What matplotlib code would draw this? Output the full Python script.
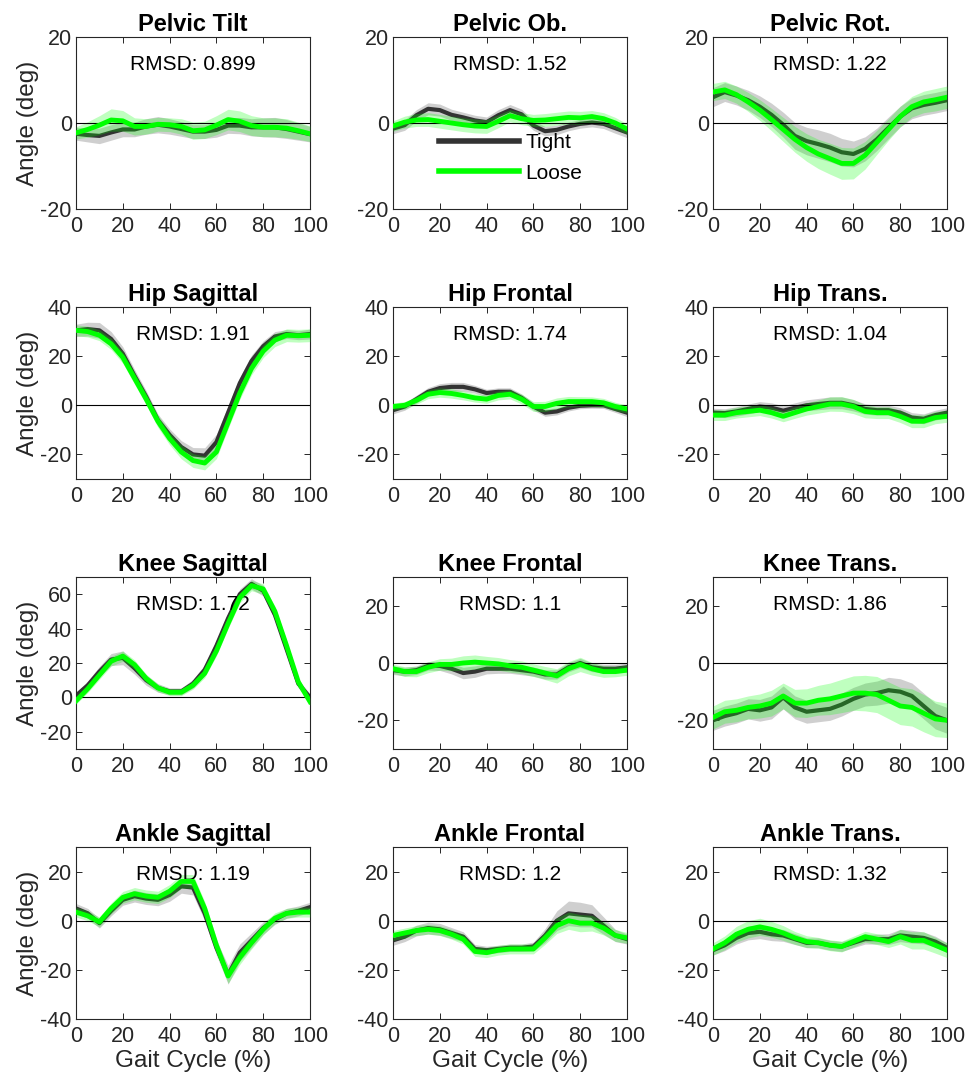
import numpy as np
import matplotlib
matplotlib.use("Agg")
import matplotlib.pyplot as plt
from matplotlib.lines import Line2D

plt.rcParams["font.family"] = ["Liberation Sans", "DejaVu Sans"]
plt.rcParams["axes.unicode_minus"] = False

# gait cycle sample points (% of cycle)
gait = [0, 5, 10, 15, 20, 25, 30, 35, 40, 45, 50, 55, 60, 65, 70, 75, 80, 85, 90, 95, 100]

titles = ["Pelvic Tilt", "Pelvic Ob.", "Pelvic Rot.",
          "Hip Sagittal", "Hip Frontal", "Hip Trans.",
          "Knee Sagittal", "Knee Frontal", "Knee Trans.",
          "Ankle Sagittal", "Ankle Frontal", "Ankle Trans."]
rmsd = ["0.899", "1.52", "1.22", "1.91", "1.74", "1.04",
        "1.72", "1.1", "1.86", "1.19", "1.2", "1.32"]

# mean angles (deg) and SD, tight vs loose
pelvic_tilt_tight = [-2.5, -2.8, -3, -2.2, -1.5, -1.5, -0.8, -0.4, -0.8, -1.4, -2, -2, -1.6, -0.6, -0.6, -1, -1, -1, -1.4, -2, -2.6]
pelvic_tilt_loose = [-2.3, -1.5, -0.5, 0.7, 0.5, -0.8, -0.8, -0.3, -0.4, -0.8, -1.8, -1.6, -0.5, 0.8, 0.4, -0.6, -1, -1, -1.2, -1.8, -2.5]
pelvic_tilt_tight_sd = [1.5, 1.6, 1.8, 1.8, 1.7, 1.7, 1.8, 1.9, 1.8, 1.7, 1.6, 1.6, 1.7, 1.8, 1.9, 2.0, 2.2, 2.3, 2.2, 2.0, 1.8]
pelvic_tilt_loose_sd = [1.4, 1.8, 2.2, 2.6, 2.4, 2.0, 1.8, 1.6, 1.6, 1.8, 2.0, 2.0, 2.2, 2.4, 2.4, 2.3, 2.2, 2.2, 2.2, 2.0, 1.8]

pelvic_ob_tight = [-1.3, -0.5, 1.8, 3.3, 3.0, 1.9, 1.3, 0.6, 0.2, 1.8, 3.0, 2.0, -0.6, -1.9, -1.6, -0.8, -0.2, 0.1, -0.2, -1.2, -2.2]
pelvic_ob_loose = [-0.7, 0.2, 0.7, 0.8, 0.4, 0, -0.4, -0.7, -0.8, 0.4, 1.7, 1.0, 0.6, 0.7, 1.0, 1.3, 1.2, 1.5, 1.0, 0, -1.4]
pelvic_ob_tight_sd = [1.2, 1.2, 1.3, 1.4, 1.4, 1.3, 1.2, 1.2, 1.2, 1.3, 1.3, 1.2, 1.1, 1.1, 1.1, 1.0, 1.0, 1.0, 1.1, 1.2, 1.2]
pelvic_ob_loose_sd = [1.2, 1.4, 1.5, 1.6, 1.6, 1.6, 1.6, 1.6, 1.6, 1.5, 1.4, 1.4, 1.4, 1.5, 1.5, 1.5, 1.5, 1.4, 1.4, 1.3, 1.2]

pelvic_rot_tight = [6, 7.2, 6.4, 5.3, 3.8, 1.9, -0.4, -3, -4.2, -4.9, -5.7, -6.8, -7.2, -6, -3.8, -1.1, 1.5, 3.4, 4.2, 4.7, 5.3]
pelvic_rot_loose = [7.2, 7.7, 6.6, 4.9, 3, 0.8, -1.5, -3.8, -5.7, -7.2, -8.3, -9.4, -9.4, -7.5, -4.5, -1.5, 1.5, 3.8, 4.9, 5.4, 6]
pelvic_rot_tight_sd = [2.2, 2.2, 2.2, 2.3, 2.5, 2.7, 2.9, 3.1, 3.2, 3.3, 3.3, 3.2, 3.0, 2.8, 2.6, 2.5, 2.4, 2.4, 2.4, 2.4, 2.4]
pelvic_rot_loose_sd = [2.0, 2.0, 2.0, 2.2, 2.4, 2.6, 2.8, 3.0, 3.2, 3.4, 3.6, 3.7, 3.6, 3.2, 2.8, 2.5, 2.4, 2.4, 2.5, 2.6, 2.6]

hip_sag_tight = [30.5, 31, 30.5, 27, 21, 12, 3.5, -6, -12, -17, -20, -20.5, -15, -3, 9, 18, 24, 28, 29, 28.5, 29]
hip_sag_loose = [30.5, 30, 28.5, 25, 19.5, 11, 2.5, -6.5, -13.5, -19, -22.5, -23.5, -19, -7, 5, 15, 22, 26.5, 28.5, 28.3, 28.5]
hip_sag_tight_sd = [2.5, 2.8, 3.2, 3.0, 2.8, 2.6, 2.4, 2.4, 2.4, 2.6, 2.8, 3.2, 3.2, 2.8, 2.5, 2.4, 2.2, 2.0, 1.8, 1.8, 2.0]
hip_sag_loose_sd = [2.2, 2.2, 2.2, 2.3, 2.4, 2.4, 2.4, 2.5, 2.6, 2.8, 2.8, 2.8, 2.7, 2.6, 2.6, 2.6, 2.6, 2.6, 2.6, 2.6, 2.6]

hip_front_tight = [-2, -0.5, 2.5, 5.5, 7, 7.5, 7.5, 6.5, 5, 5.5, 5.5, 3, -0.5, -3, -2.5, -1, -0.2, 0, 0, -1.5, -3]
hip_front_loose = [-0.5, 0, 2, 4.5, 5.2, 4.8, 4, 3, 2.5, 4, 4.5, 2.5, -0.5, -0.5, 0.8, 1.5, 1.5, 1.5, 1, -0.5, -1.5]
hip_front_tight_sd = [1.5, 1.5, 1.6, 1.7, 1.8, 1.8, 1.8, 1.6, 1.5, 1.6, 1.6, 1.6, 1.5, 1.5, 1.4, 1.3, 1.2, 1.2, 1.3, 1.4, 1.6]
hip_front_loose_sd = [1.4, 1.5, 1.6, 1.8, 1.9, 1.9, 1.8, 1.7, 1.7, 1.8, 1.9, 2.0, 2.0, 2.1, 2.2, 2.1, 2.0, 1.9, 1.8, 1.7, 1.6]

hip_trans_tight = [-3, -3.2, -2.5, -1.5, -0.5, -1, -2.2, -1, 0, 0.5, 1, 1, 0, -1.5, -2, -2, -3, -5, -5.5, -4, -3]
hip_trans_loose = [-4, -4, -3, -2.5, -2, -3, -4.5, -3, -1.5, -0.5, 0.5, 0.5, -0.5, -2.5, -3, -3, -4.5, -6.5, -6.5, -5, -4.5]
hip_trans_tight_sd = [1.8, 1.8, 1.9, 2.0, 2.0, 2.0, 2.0, 2.0, 2.2, 2.3, 2.4, 2.4, 2.3, 2.1, 2.0, 2.0, 2.0, 2.0, 2.0, 2.0, 2.0]
hip_trans_loose_sd = [2.2, 2.2, 2.2, 2.2, 2.2, 2.2, 2.2, 2.3, 2.5, 2.7, 2.9, 3.0, 2.9, 2.6, 2.4, 2.4, 2.5, 2.6, 2.6, 2.5, 2.4]

knee_sag_tight = [1, 7, 15, 22, 23, 17, 10, 5.5, 3.5, 3.5, 8, 16, 30, 46, 60, 66, 62, 48, 28, 8, 0]
knee_sag_loose = [-2, 5, 13, 21, 24, 19, 11, 5.5, 3, 3, 7, 14, 27, 43, 58, 65, 63, 50, 30, 9, -2.5]
knee_sag_tight_sd = [2.0, 2.5, 3.0, 3.5, 4.0, 3.5, 3.0, 2.5, 2.0, 2.0, 2.5, 3.0, 3.0, 3.0, 3.0, 3.0, 3.0, 3.0, 3.0, 2.5, 2.0]
knee_sag_loose_sd = [2.0, 2.2, 2.5, 2.8, 3.0, 2.8, 2.5, 2.2, 2.0, 2.0, 2.2, 2.5, 2.8, 3.0, 3.0, 3.0, 3.0, 3.0, 3.0, 2.5, 2.0]

knee_front_tight = [-2.5, -3, -2.5, -1, -1, -2, -3.5, -3, -2, -2, -2, -2.5, -3, -4, -4, -1.5, 0, -1.5, -2, -2, -1.5]
knee_front_loose = [-2, -3, -3, -1.5, -0.5, -0.5, 0, 0.3, 0, -0.3, -1, -1.5, -2.5, -3.5, -4.5, -2, -0.5, -2, -3, -3, -2.5]
knee_front_tight_sd = [1.5, 1.5, 1.5, 1.5, 1.6, 1.8, 2.0, 2.0, 1.8, 1.6, 1.6, 1.6, 1.6, 1.6, 1.6, 1.6, 1.6, 1.5, 1.5, 1.5, 1.5]
knee_front_loose_sd = [1.6, 1.7, 1.8, 1.9, 2.0, 2.2, 2.5, 2.5, 2.3, 2.2, 2.2, 2.2, 2.2, 2.3, 2.5, 2.5, 2.5, 2.2, 2.0, 1.8, 1.8]

knee_trans_tight = [-20, -18.5, -17.5, -16, -16.5, -15.5, -12, -15.5, -17, -16.5, -16, -14.5, -12.5, -11, -10.5, -9.5, -10, -11.5, -15, -18.5, -20]
knee_trans_loose = [-19, -17, -16.5, -15.5, -15, -14, -11.5, -14, -14, -13, -12.5, -11.5, -10.5, -10.5, -11, -13, -15, -15.5, -17.5, -19.5, -20]
knee_trans_tight_sd = [3.5, 3.5, 3.5, 3.5, 3.8, 4.0, 4.0, 4.0, 4.0, 4.0, 4.0, 4.0, 4.0, 4.0, 4.2, 4.5, 4.5, 4.5, 4.5, 4.5, 4.5]
knee_trans_loose_sd = [4.0, 4.0, 4.0, 4.0, 4.2, 4.5, 4.5, 4.8, 5.0, 5.2, 5.5, 5.8, 6.0, 6.2, 6.3, 6.4, 6.5, 6.5, 6.5, 6.2, 6.0]

ankle_sag_tight = [5, 3, -1, 4, 8.5, 10, 9, 8.5, 10.5, 14, 13.5, 3, -11, -22, -13, -8, -3, 0.5, 3, 4, 5.5]
ankle_sag_loose = [3.5, 2, -0.5, 5, 9.5, 11, 10, 9.5, 12, 16, 16, 5, -10, -22.5, -15, -9, -3.5, 1, 3, 3.5, 3.5]
ankle_sag_tight_sd = [2.0, 2.0, 2.0, 2.0, 2.2, 2.4, 2.4, 2.4, 2.6, 2.8, 3.0, 3.0, 3.0, 3.8, 3.5, 3.0, 2.5, 2.0, 2.0, 2.0, 2.0]
ankle_sag_loose_sd = [2.0, 2.0, 2.0, 2.2, 2.4, 2.5, 2.5, 2.5, 2.7, 2.8, 2.8, 2.8, 2.8, 3.0, 2.8, 2.5, 2.3, 2.2, 2.0, 2.0, 2.0]

ankle_front_tight = [-8, -6.5, -4, -3, -3.5, -5, -6.5, -11.5, -12, -11.5, -11, -11, -10.5, -6, 0, 3, 2.5, 2, -2, -6, -7.5]
ankle_front_loose = [-6, -5, -4, -3.5, -4, -5.5, -7.5, -12.5, -13, -12, -11.5, -11.5, -11.5, -7, -2, 0, -1, -1, -3, -6, -7]
ankle_front_tight_sd = [2.0, 2.0, 2.2, 2.4, 2.4, 2.2, 2.0, 1.8, 1.6, 1.5, 1.5, 1.5, 1.8, 2.8, 4.0, 5.0, 5.0, 4.5, 3.5, 2.5, 2.0]
ankle_front_loose_sd = [2.0, 2.0, 2.0, 2.0, 2.0, 2.0, 2.0, 2.0, 2.0, 2.0, 2.0, 2.0, 2.0, 2.6, 3.2, 3.5, 3.5, 3.2, 2.8, 2.4, 2.2]

ankle_trans_tight = [-12, -10, -7, -5, -4.5, -5.5, -6, -7.5, -9, -9, -10, -10.5, -9, -7.5, -7.5, -7.5, -6, -6.5, -7, -8.5, -11]
ankle_trans_loose = [-11.5, -9, -5.5, -3.5, -2.5, -3.5, -5, -7, -8.5, -9, -10, -10.5, -8.5, -6.5, -7.5, -8.5, -6.5, -8, -8, -10, -12]
ankle_trans_tight_sd = [2.0, 2.2, 2.5, 2.8, 2.8, 2.6, 2.4, 2.2, 2.0, 2.0, 2.0, 2.0, 2.0, 2.0, 2.0, 2.2, 2.5, 2.6, 2.4, 2.2, 2.0]
ankle_trans_loose_sd = [2.5, 2.8, 3.2, 3.5, 3.5, 3.2, 3.0, 2.6, 2.4, 2.2, 2.2, 2.2, 2.2, 2.2, 2.2, 2.4, 3.0, 3.5, 3.5, 3.2, 3.0]

tight_means = [pelvic_tilt_tight, pelvic_ob_tight, pelvic_rot_tight, hip_sag_tight, hip_front_tight, hip_trans_tight,
               knee_sag_tight, knee_front_tight, knee_trans_tight, ankle_sag_tight, ankle_front_tight, ankle_trans_tight]
loose_means = [pelvic_tilt_loose, pelvic_ob_loose, pelvic_rot_loose, hip_sag_loose, hip_front_loose, hip_trans_loose,
               knee_sag_loose, knee_front_loose, knee_trans_loose, ankle_sag_loose, ankle_front_loose, ankle_trans_loose]
tight_sds = [pelvic_tilt_tight_sd, pelvic_ob_tight_sd, pelvic_rot_tight_sd, hip_sag_tight_sd, hip_front_tight_sd, hip_trans_tight_sd,
             knee_sag_tight_sd, knee_front_tight_sd, knee_trans_tight_sd, ankle_sag_tight_sd, ankle_front_tight_sd, ankle_trans_tight_sd]
loose_sds = [pelvic_tilt_loose_sd, pelvic_ob_loose_sd, pelvic_rot_loose_sd, hip_sag_loose_sd, hip_front_loose_sd, hip_trans_loose_sd,
             knee_sag_loose_sd, knee_front_loose_sd, knee_trans_loose_sd, ankle_sag_loose_sd, ankle_front_loose_sd, ankle_trans_loose_sd]

# y-limits / ticks per row
row_ylim = [(-20, 20), (-30, 40), None, (-40, 30)]
row_yticks = [[-20, 0, 20], [-20, 0, 20, 40], None, [-40, -20, 0, 20]]

TIGHT_C = "#333333"
LOOSE_C = "#00ff00"
AX_C = "#262626"

W, H = 974, 1080
fig = plt.figure(figsize=(W / 100, H / 100), dpi=100)
col_left = [76, 393, 713]
row_bottom = [209, 479, 749, 1019]
aw, ah = 234, 172

x = np.array(gait)
for i in range(12):
    r, c = divmod(i, 3)
    ax = fig.add_axes([col_left[c] / W, 1 - row_bottom[r] / H, aw / W, ah / H])
    mt, ml = np.array(tight_means[i]), np.array(loose_means[i])
    st, sl = np.array(tight_sds[i]), np.array(loose_sds[i])
    ax.fill_between(x, mt - st, mt + st, color="#a0a0a0", alpha=0.5, lw=0, zorder=1)
    ax.plot(x, mt, color=TIGHT_C, lw=3.0, zorder=2, solid_joinstyle="round")
    ax.fill_between(x, ml - sl, ml + sl, color=LOOSE_C, alpha=0.25, lw=0, zorder=3)
    ax.axhline(0, color="black", lw=0.8, zorder=3.5)
    ax.plot(x, ml, color=LOOSE_C, lw=3.5, zorder=4, solid_joinstyle="round")

    ax.set_xlim(0, 100)
    ax.set_xticks([0, 20, 40, 60, 80, 100])
    if r == 2:
        if c == 0:
            ax.set_ylim(-30, 70)
            ax.set_yticks([-20, 0, 20, 40, 60])
        else:
            ax.set_ylim(-30, 30)
            ax.set_yticks([-20, 0, 20])
    else:
        ax.set_ylim(*row_ylim[r])
        ax.set_yticks(row_yticks[r])

    ax.tick_params(direction="in", top=True, right=True, labelsize=15.5,
                   colors=AX_C, length=4, width=0.7)
    ax.tick_params(axis="x", pad=5)
    ax.tick_params(axis="y", pad=3)
    for sp in ax.spines.values():
        sp.set_color(AX_C)
        sp.set_linewidth(0.8)
    ax.set_title(titles[i], fontsize=17, fontweight="bold", pad=4)
    ax.text(0.5, 0.84, "RMSD: " + rmsd[i], transform=ax.transAxes,
            ha="center", va="center", fontsize=15)
    if c == 0:
        ax.set_ylabel("Angle (deg)", fontsize=17.5, color=AX_C, labelpad=1)
    if r == 3:
        ax.set_xlabel("Gait Cycle (%)", fontsize=17.5, color=AX_C, labelpad=2)

    if i == 1:
        handles = [Line2D([], [], color=TIGHT_C, lw=4), Line2D([], [], color=LOOSE_C, lw=4)]
        ax.legend(handles, ["Tight", "Loose"], loc="upper left", bbox_to_anchor=(0.16, 0.49),
                  frameon=False, fontsize=15, handlelength=3.85, handletextpad=0.3,
                  labelspacing=0.55, borderaxespad=0)

fig.savefig("out.png", dpi=100)
